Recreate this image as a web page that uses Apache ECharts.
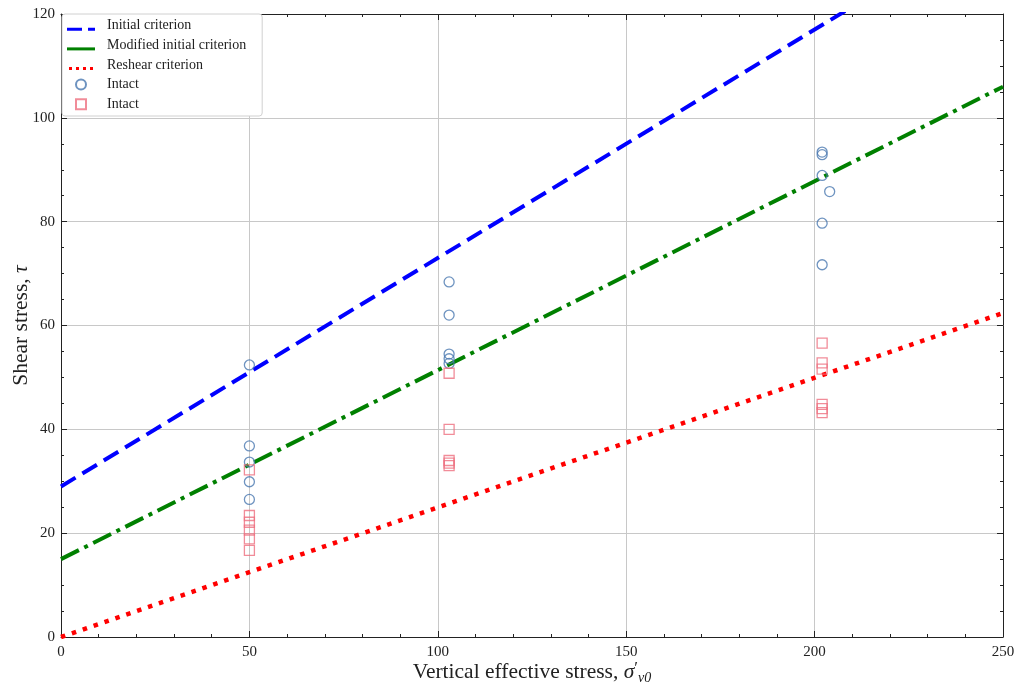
<!DOCTYPE html>
<html><head><meta charset="utf-8">
<script src="https://cdn.jsdelivr.net/npm/echarts@6/dist/echarts.min.js"></script>
<style>html,body{margin:0;padding:0;background:#fff}#c{width:1015px;height:686px}</style>
</head><body><div id="c"></div>
<script>
var xTicks = [0, 50, 100, 150, 200, 250];
var yTicks = [0, 20, 40, 60, 80, 100, 120];
var initialLine = [[0, 29], [250, 139]];
var modifiedLine = [[0, 15], [250, 106]];
var reshearLine = [[0, 0], [250, 62.4]];
var intactCircles = [
  [50, 52.4], [50, 36.8], [50, 33.7], [50, 29.9], [50, 26.5],
  [103, 68.4], [103, 62.0], [103, 54.5], [103, 53.6], [103, 52.7],
  [202, 93.4], [202, 92.9], [202, 88.9], [204, 85.8], [202, 79.7], [202, 71.7]
];
var intactSquares = [
  [50, 32.2], [50, 23.4], [50, 22.1], [50, 20.6], [50, 18.9], [50, 16.7],
  [103, 50.8], [103, 40.0], [103, 34.0], [103, 33.5], [103, 33.0],
  [202, 56.6], [202, 52.8], [202, 51.6], [202, 44.8], [202, 44.0], [202, 43.2]
];
var FONT = 'Liberation Serif';
var chart = echarts.init(document.getElementById('c'));
function axisCommon(extra) {
  return Object.assign({
    axisLine: {show: true, onZero: false, lineStyle: {color: '#222', width: 1}},
    axisTick: {show: true, inside: true, length: 6, lineStyle: {color: '#222'}},
    minorTick: {show: true, splitNumber: 5, length: 3, lineStyle: {color: '#222'}},
    axisLabel: {fontFamily: FONT, fontSize: 15, color: '#222'},
    splitLine: {show: false}
  }, extra);
}
var SQ = 'path://M0,0H10V10H0Z';
var ICON_DASH = 'path://M0,-3H15V0H0Z M21,-3H28V0H21Z M0,-10M0,0';
var ICON_SOLID = 'path://M0,-3H28V0H0Z M0,-10M0,0';
var ICON_DOT = 'path://M0,-3H3V0H0Z M7,-3H10V0H7Z M14,-3H17V0H14Z M21,-3H24V0H21Z M0,-10M0,0';
chart.setOption({
  animation: false,
  grid: {left: 61, right: 12, top: 14, bottom: 49, containLabel: false, outerBoundsMode: 'none'},
  xAxis: [
    axisCommon({type: 'value', min: xTicks[0], max: xTicks[xTicks.length-1], interval: 50,
      name: '{t|Vertical effective stress, }{s|σ}{p|′}{b|v0}', nameLocation: 'middle', nameGap: 23,
      nameMoveOverlap: false,
      nameTextStyle: {rich: {
        t: {fontFamily: FONT, fontSize: 21.5, color: '#222'},
        s: {fontFamily: FONT, fontSize: 21.5, fontStyle: 'italic', color: '#222'},
        p: {fontFamily: FONT, fontSize: 17, color: '#222', verticalAlign: 'top', padding: [0,0,8,0]},
        b: {fontFamily: FONT, fontSize: 14, fontStyle: 'italic', color: '#222', verticalAlign: 'bottom', padding: [8,0,0,0]}
      }},
      axisLabel: {fontFamily: FONT, fontSize: 15, color: '#222', margin: 8},
      splitLine: {show: true, lineStyle: {color: '#c8c8c8', width: 1}}}),
    axisCommon({type: 'value', position: 'top', min: 0, max: 250, interval: 50, axisLabel: {show: false}})
  ],
  yAxis: [
    axisCommon({type: 'value', min: yTicks[0], max: yTicks[yTicks.length-1], interval: 20,
      name: '{t|Shear stress, }{s|τ}', nameLocation: 'middle', nameGap: 29, nameRotate: 90,
      nameMoveOverlap: false,
      nameTextStyle: {rich: {
        t: {fontFamily: FONT, fontSize: 21.5, color: '#222'},
        s: {fontFamily: FONT, fontSize: 21.5, fontStyle: 'italic', color: '#222'}
      }},
      minorTick: {show: true, splitNumber: 4, length: 3, lineStyle: {color: '#222'}},
      axisLabel: {fontFamily: FONT, fontSize: 15, color: '#222', margin: 6},
      splitLine: {show: true, lineStyle: {color: '#c8c8c8', width: 1}}}),
    axisCommon({type: 'value', position: 'right', min: 0, max: 120, interval: 20, axisLabel: {show: false},
      minorTick: {show: true, splitNumber: 4, length: 3, lineStyle: {color: '#222'}}})
  ],
  legend: {
    left: 62, top: 14, orient: 'vertical', itemGap: 0, itemWidth: 28, itemHeight: 10,
    backgroundColor: '#fff', borderColor: '#d0d0d0', borderWidth: 1, borderRadius: 3,
    padding: [2, 16, 2, 5],
    textStyle: {fontFamily: FONT, fontSize: 14, color: '#222', lineHeight: 19.6, padding: [0,0,0,7]},
    data: [{name: 'Initial criterion', icon: ICON_DASH}, {name: 'Modified initial criterion', icon: ICON_SOLID},
      {name: 'Reshear criterion', icon: ICON_DOT},
      {name: 'Intact', icon: 'circle'}, {name: 'Intact ', icon: SQ}]
  },
  series: [
    {name: 'Initial criterion', type: 'line', data: initialLine, symbol: 'none', clip: true,
      lineStyle: {color: '#0000ff', width: 4, type: [17, 8]}, itemStyle: {color: '#0000ff'}, z: 3},
    {name: 'Modified initial criterion', type: 'line', data: modifiedLine, symbol: 'none', clip: true,
      lineStyle: {color: '#008000', width: 4, type: [20, 6, 4, 6]}, itemStyle: {color: '#008000'}, z: 3},
    {name: 'Reshear criterion', type: 'line', data: reshearLine, symbol: 'none', clip: true,
      lineStyle: {color: '#ff0000', width: 4.5, type: [4.5, 7]}, itemStyle: {color: '#ff0000'}, z: 3},
    {name: 'Intact', type: 'scatter', data: intactCircles, symbol: 'circle', symbolSize: 10,
      itemStyle: {color: 'rgba(0,0,0,0)', borderColor: '#4a78b0', borderWidth: 1.3}, z: 4},
    {name: 'Intact ', type: 'scatter', data: intactSquares, symbol: SQ, symbolSize: 10,
      itemStyle: {color: 'rgba(0,0,0,0)', borderColor: '#ee6f80', borderWidth: 1.3}, z: 4}
  ]
});
</script></body></html>
